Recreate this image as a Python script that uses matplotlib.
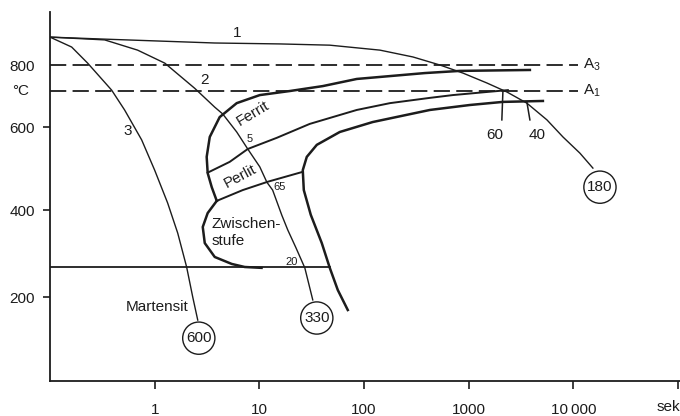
import numpy as np
import matplotlib.pyplot as plt
from matplotlib.ticker import NullLocator

plt.rcParams['font.family'] = ['Liberation Sans', 'DejaVu Sans']
plt.rcParams['mathtext.fontset'] = 'custom'
plt.rcParams['mathtext.rm'] = 'Liberation Sans'

# Abkuehlkurven (Zeit in s, Temperatur in Grad C)
kurve1_t = [0.1, 0.3, 3.75, 15.7, 47.1, 142, 293, 531, 881, 1493, 2318, 3597, 5594, 7960, 11560, 15380]
kurve1_T = [890, 884, 871, 868, 864, 848, 826, 800, 774, 742, 713, 677, 623, 576, 537, 501]

kurve2_t = [0.1, 0.333, 0.687, 1.25, 2.41, 3.75, 4.47, 6.08, 7.75, 10.1, 11.8, 13.4, 16.4, 18.7, 22.3, 27.2, 32.4]
kurve2_T = [890, 881, 848, 806, 725, 664, 642, 588, 547, 504, 467, 448, 388, 354, 314, 267, 193]

kurve3_t = [0.1, 0.161, 0.229, 0.388, 0.516, 0.751, 1.0, 1.33, 1.66, 2.02, 2.31, 2.58]
kurve3_T = [890, 858, 806, 719, 655, 569, 496, 417, 347, 269, 200, 145]

# Umwandlungslinien
ferrit_t = [3.92, 3.51, 3.21, 3.14, 3.36, 4.18, 6.08, 10.1, 19.5, 40.4, 85.3, 381, 824, 3846]
ferrit_T = [422, 455, 489, 528, 576, 632, 677, 703, 716, 732, 755, 774, 781, 784]

perlit_t = [3.21, 5.21, 7.75, 14.7, 30.3, 85.3, 177, 426, 706, 1493, 2370]
perlit_T = [490, 516, 547, 574, 610, 655, 677, 694, 703, 713, 719]

grenze_t = [3.92, 6.94, 12.0, 26.0]
grenze_T = [422, 448, 468, 492]

ende_t = [5120, 2123, 1026, 426, 121, 58.7, 35.4, 28.4, 26.0, 26.6, 31.0, 39.5, 47.1, 56.2, 70.0]
ende_T = [684, 681, 671, 655, 616, 588, 557, 528, 496, 448, 389, 324, 267, 216, 169]

zw_t = [3.92, 3.21, 2.88, 3.01, 3.75, 5.45, 7.25, 10.5]
zw_T = [422, 393, 361, 324, 292, 276, 269, 267]

ms_t = [0.1, 47.1]
ms_T = 268

a3_T = 800
a1_T = 716
a_t = [0.1, 11070]

mark60_t = [2123, 2075]
mark60_T = [713, 623]
mark40_t = [3597, 3846]
mark40_T = [681, 623]

# Haerte in den Kreisen
kreis_t = [2.64, 35.4, 17960]
kreis_T = [102, 150, 455]
kreis_lab = ['600', '330', '180']

xticks = [1, 10, 100, 1000, 10000, 100000]
xlabels = ['1', '10', '100', '1000', '10\u2009000', '']
yticks = [200, 400, 600, 800]

# die Temperaturachse im Original ist nicht ganz linear
T_knoten = [-200, 0, 200, 400, 600, 800, 1200]
u_knoten = [-84, 0, 84, 171, 254, 316, 440]


def vor(T):
    return np.interp(T, T_knoten, u_knoten)


def zurueck(u):
    return np.interp(u, u_knoten, T_knoten)


farbe = '#1c1c1c'

fig = plt.figure(figsize=(6.8, 4.16), dpi=100)
ax = fig.add_axes([50 / 680, 35 / 416, 630 / 680, 369 / 416])
ax.set_xscale('log')
ax.set_yscale('function', functions=(vor, zurueck))
ax.set_xlim(0.1, 1.045e5)
ax.set_ylim(0, 971)

for s in ['top', 'right']:
    ax.spines[s].set_visible(False)
for s in ['left', 'bottom']:
    ax.spines[s].set_linewidth(1.3)
    ax.spines[s].set_color(farbe)

ax.set_xticks(xticks)
ax.set_xticklabels(xlabels)
ax.xaxis.set_minor_locator(NullLocator())
ax.set_yticks(yticks)
ax.yaxis.set_minor_locator(NullLocator())
ax.tick_params(axis='x', length=6, width=1.2, pad=10, labelsize=11, colors=farbe)
ax.tick_params(axis='y', length=5, width=1.2, pad=6, labelsize=11, colors=farbe)
ax.yaxis.get_major_ticks()[3].tick1line.set_visible(False)

ax.annotate('sek', xy=(1.045e5, 0), xycoords=('data', 'axes fraction'), xytext=(0, -26),
            textcoords='offset pixels', ha='right', va='center', fontsize=11, color=farbe, annotation_clip=False)
ax.annotate('°C', xy=(0, a1_T), xycoords=('axes fraction', 'data'), xytext=(-38, 0),
            textcoords='offset pixels', ha='left', va='center', fontsize=11, color=farbe, annotation_clip=False)

# A3 / A1
ax.plot(a_t, [a3_T, a3_T], color=farbe, lw=1.3, dashes=(9, 3.5))
ax.plot(a_t, [a1_T, a1_T], color=farbe, lw=1.3, dashes=(9, 3.5))
ax.text(12400, a3_T, 'A$_3$', fontsize=11, va='center', color=farbe)
ax.text(12400, a1_T, 'A$_1$', fontsize=11, va='center', color=farbe)

# Umwandlungsbereiche
ax.plot(ferrit_t, ferrit_T, color=farbe, lw=1.8)
ax.plot(perlit_t, perlit_T, color=farbe, lw=1.4)
ax.plot(grenze_t, grenze_T, color=farbe, lw=1.4)
ax.plot(ende_t, ende_T, color=farbe, lw=1.8)
ax.plot(zw_t, zw_T, color=farbe, lw=1.8)
ax.plot(ms_t, [ms_T, ms_T], color=farbe, lw=1.3)
ax.plot(mark60_t, mark60_T, color=farbe, lw=1.1)
ax.plot(mark40_t, mark40_T, color=farbe, lw=1.1)

# Abkuehlkurven
ax.plot(kurve1_t, kurve1_T, color=farbe, lw=1.0)
ax.plot(kurve2_t, kurve2_T, color=farbe, lw=1.0)
ax.plot(kurve3_t, kurve3_T, color=farbe, lw=1.0)

for t, T, lab in zip(kreis_t, kreis_T, kreis_lab):
    ax.text(t, T, lab, fontsize=11, ha='center', va='center', color=farbe,
            bbox=dict(boxstyle='circle,pad=0.22', fc='white', ec=farbe, lw=1.0))

# Beschriftungen
ax.text(6.08, 903, '1', fontsize=11, ha='center', va='center', color=farbe)
ax.text(3.01, 752, '2', fontsize=11, ha='center', va='center', color=farbe)
ax.text(0.552, 590, '3', fontsize=11, ha='center', va='center', color=farbe)
ax.text(8.65, 645, 'Ferrit', fontsize=11, ha='center', va='center', rotation=31, color=farbe)
ax.text(6.5, 482, 'Perlit', fontsize=11, ha='center', va='center', rotation=28, color=farbe)
ax.text(8.1, 571, '5', fontsize=8, ha='center', va='center', color=farbe)
ax.text(15.7, 455, '65', fontsize=8, ha='center', va='center', color=farbe)
ax.text(20.4, 280, '20', fontsize=8, ha='center', va='center', color=farbe)
ax.text(3.51, 349, 'Zwischen-\nstufe', fontsize=11, ha='left', va='center', linespacing=1.3, color=farbe)
ax.text(1.05, 176, 'Martensit', fontsize=11, ha='center', va='center', color=farbe)
ax.text(1780, 581, '60', fontsize=11, ha='center', va='center', color=farbe)
ax.text(4487, 581, '40', fontsize=11, ha='center', va='center', color=farbe)

plt.savefig('out.png', dpi=100)
